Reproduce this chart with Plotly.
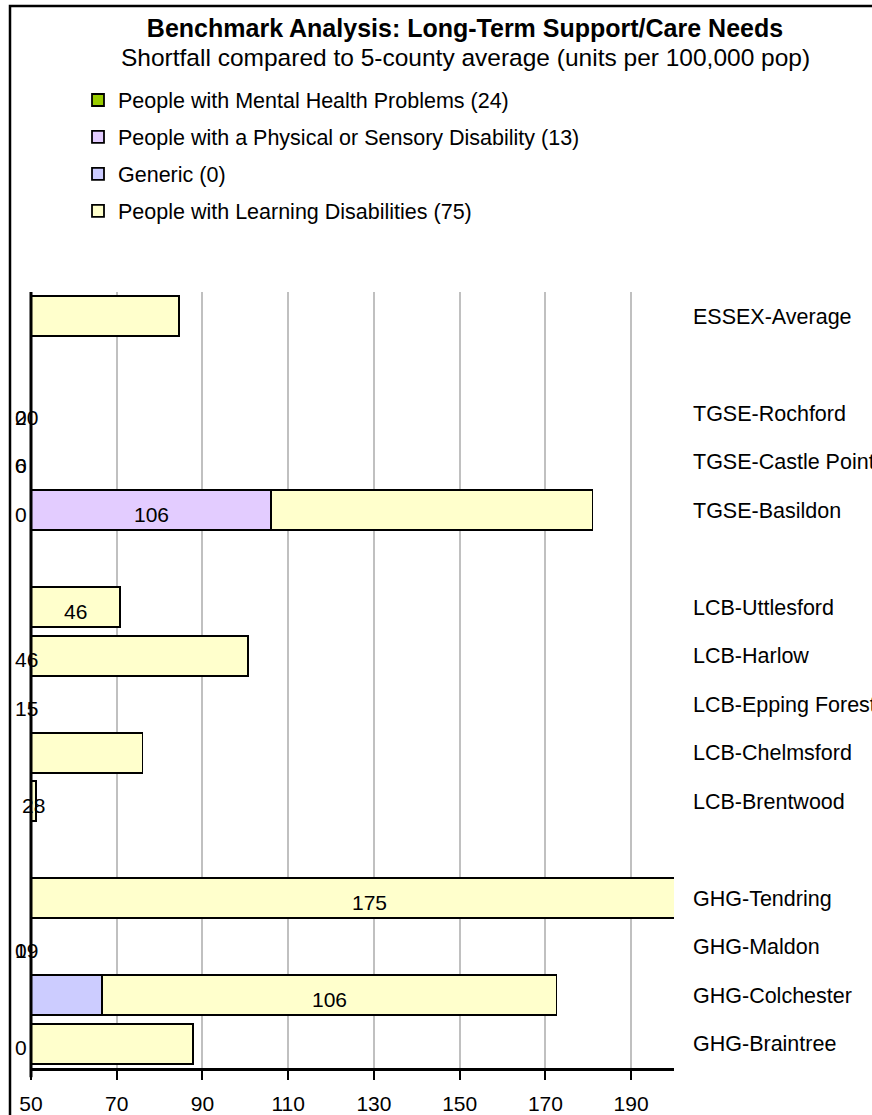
import plotly.graph_objects as go

# Rows top to bottom (blank strings are the spacer rows between groups)
categories = ["ESSEX-Average", " ", "TGSE-Rochford", "TGSE-Castle Point", "TGSE-Basildon", "  ",
              "LCB-Uttlesford", "LCB-Harlow", "LCB-Epping Forest", "LCB-Chelmsford", "LCB-Brentwood", "   ",
              "GHG-Tendring", "GHG-Maldon", "GHG-Colchester", "GHG-Braintree"]

# stacked segment values (stack order: mental health, physical, generic, learning)
mental_health = [0, None, 20, 6, 0, None, 24.8, 46, 15, 0, 23.2, None, 33, 0, 0, 0]
physical = [0, None, 0, 0, 106, None, 0, 0, 0, 0, 0, None, 0, 19, 0, 0]
generic = [0, None, 0, 0, 0, None, 0, 0, 0, 0, 0, None, 0, 0, 66.6, 0]
learning = [84.5, None, 0, 0, 75, None, 46, 54.7, 0, 76, 28, None, 175, 0, 106, 87.8]

# data labels as they appear on the chart
mh_labels = ["", "", "20", "6", "0", "", "", "46", "15", "", "", "", "", "0", "", "0"]
phys_labels = ["", "", "0", "0", "106", "", "", "", "", "", "", "", "", "19", "", ""]
gen_labels = [""] * 16
ld_labels = ["", "", "", "", "", "", "46", "", "", "", "28", "", "175", "", "106", ""]

series_names = ["People with Mental Health Problems (24)",
                "People with a Physical or Sensory Disability (13)",
                "Generic (0)",
                "People with Learning Disabilities (75)"]
series_values = [mental_health, physical, generic, learning]
series_labels = [mh_labels, phys_labels, gen_labels, ld_labels]
colors = ["#99CC00", "#E3CCFF", "#CCCCFF", "#FFFFCC"]

x_ticks = [50, 70, 90, 110, 130, 150, 170, 190]
AXIS_MIN, AXIS_MAX = 50, 200

FONT = "Liberation Sans, Arial, sans-serif"

fig = go.Figure()

start = [0 if v is not None else None for v in mental_health]
for i in range(4):
    vals = series_values[i]
    fig.add_trace(go.Bar(
        y=categories, x=vals, orientation="h", name=series_names[i],
        marker=dict(color=colors[i], line=dict(color="black", width=1.8)),
        legendgroup="g%d" % i, hoverinfo="x+name"))

    # data labels: centred on the visible part of the segment,
    # or parked left of the axis when the segment ends below the axis minimum
    for j, cat in enumerate(categories):
        if vals[j] is None:
            continue
        s = start[j]
        e = s + vals[j]
        if series_labels[i][j] != "":
            if e <= AXIS_MIN:
                fig.add_annotation(x=AXIS_MIN, y=cat, text=series_labels[i][j],
                                   xanchor="left", xshift=-18, yshift=-4,
                                   showarrow=False, font=dict(size=21, family=FONT, color="black"))
            else:
                fig.add_annotation(x=(max(s, AXIS_MIN) + e) / 2, y=cat, text=series_labels[i][j],
                                   xanchor="center", yshift=-4,
                                   showarrow=False, font=dict(size=21, family=FONT, color="black"))
        start[j] = e

fig.update_layout(
    barmode="stack",
    bargap=0.18,
    width=872, height=1115,
    margin=dict(l=31, r=198, t=292, b=47),
    paper_bgcolor="white", plot_bgcolor="white",
    font=dict(family=FONT, size=21, color="black"),
    title=dict(text="<b>Benchmark Analysis: Long-Term Support/Care Needs</b>",
               font=dict(size=25, family=FONT, color="black"),
               x=465 / 872, xref="container", xanchor="center",
               y=1 - 28 / 1115, yref="container", yanchor="middle"),
    legend=dict(x=0.0731, y=1.2738, xanchor="left", yanchor="top",
                traceorder="grouped", tracegroupgap=6,
                font=dict(size=21.5, family=FONT), bgcolor="rgba(0,0,0,0)"),
    xaxis=dict(range=[AXIS_MIN, AXIS_MAX], tickvals=x_ticks,
               showgrid=True, gridcolor="#c0c0c0", gridwidth=1.5,
               showline=True, linecolor="black", linewidth=2.5,
               ticks="outside", ticklen=9, tickwidth=2, tickcolor="black",
               ticklabelstandoff=6, zeroline=False, automargin=False,
               tickfont=dict(size=21, family=FONT)),
    yaxis=dict(categoryorder="array", categoryarray=categories,
               range=[len(categories) - 0.5, -0.5],
               side="right", showgrid=False, showline=False, ticks="",
               ticklabelstandoff=18, automargin=False,
               tickfont=dict(size=21.5, family=FONT)),
    showlegend=True,
)

fig.add_annotation(text="Shortfall compared to 5-county average (units per 100,000 pop)",
                   xref="paper", yref="paper", x=(465 - 31) / 643, y=1 + (292 - 58) / 776,
                   xanchor="center", yanchor="middle", showarrow=False,
                   font=dict(size=24.5, family=FONT, color="black"))

# value axis line on the left
fig.add_shape(type="line", xref="x domain", yref="y domain", x0=0, x1=0, y0=-0.012, y1=1,
              line=dict(color="black", width=3))
# chart frame
fig.add_shape(type="rect", xref="paper", yref="paper",
              x0=(10 - 31) / 643, x1=1.6, y0=-0.3, y1=1 + (292 - 6) / 776,
              line=dict(color="black", width=2.5), fillcolor="rgba(0,0,0,0)")

# the page's default body margin would shift the figure by 8px
fig.write_html("out.html", config={"displayModeBar": False},
               post_script="document.body.style.margin='0';")
